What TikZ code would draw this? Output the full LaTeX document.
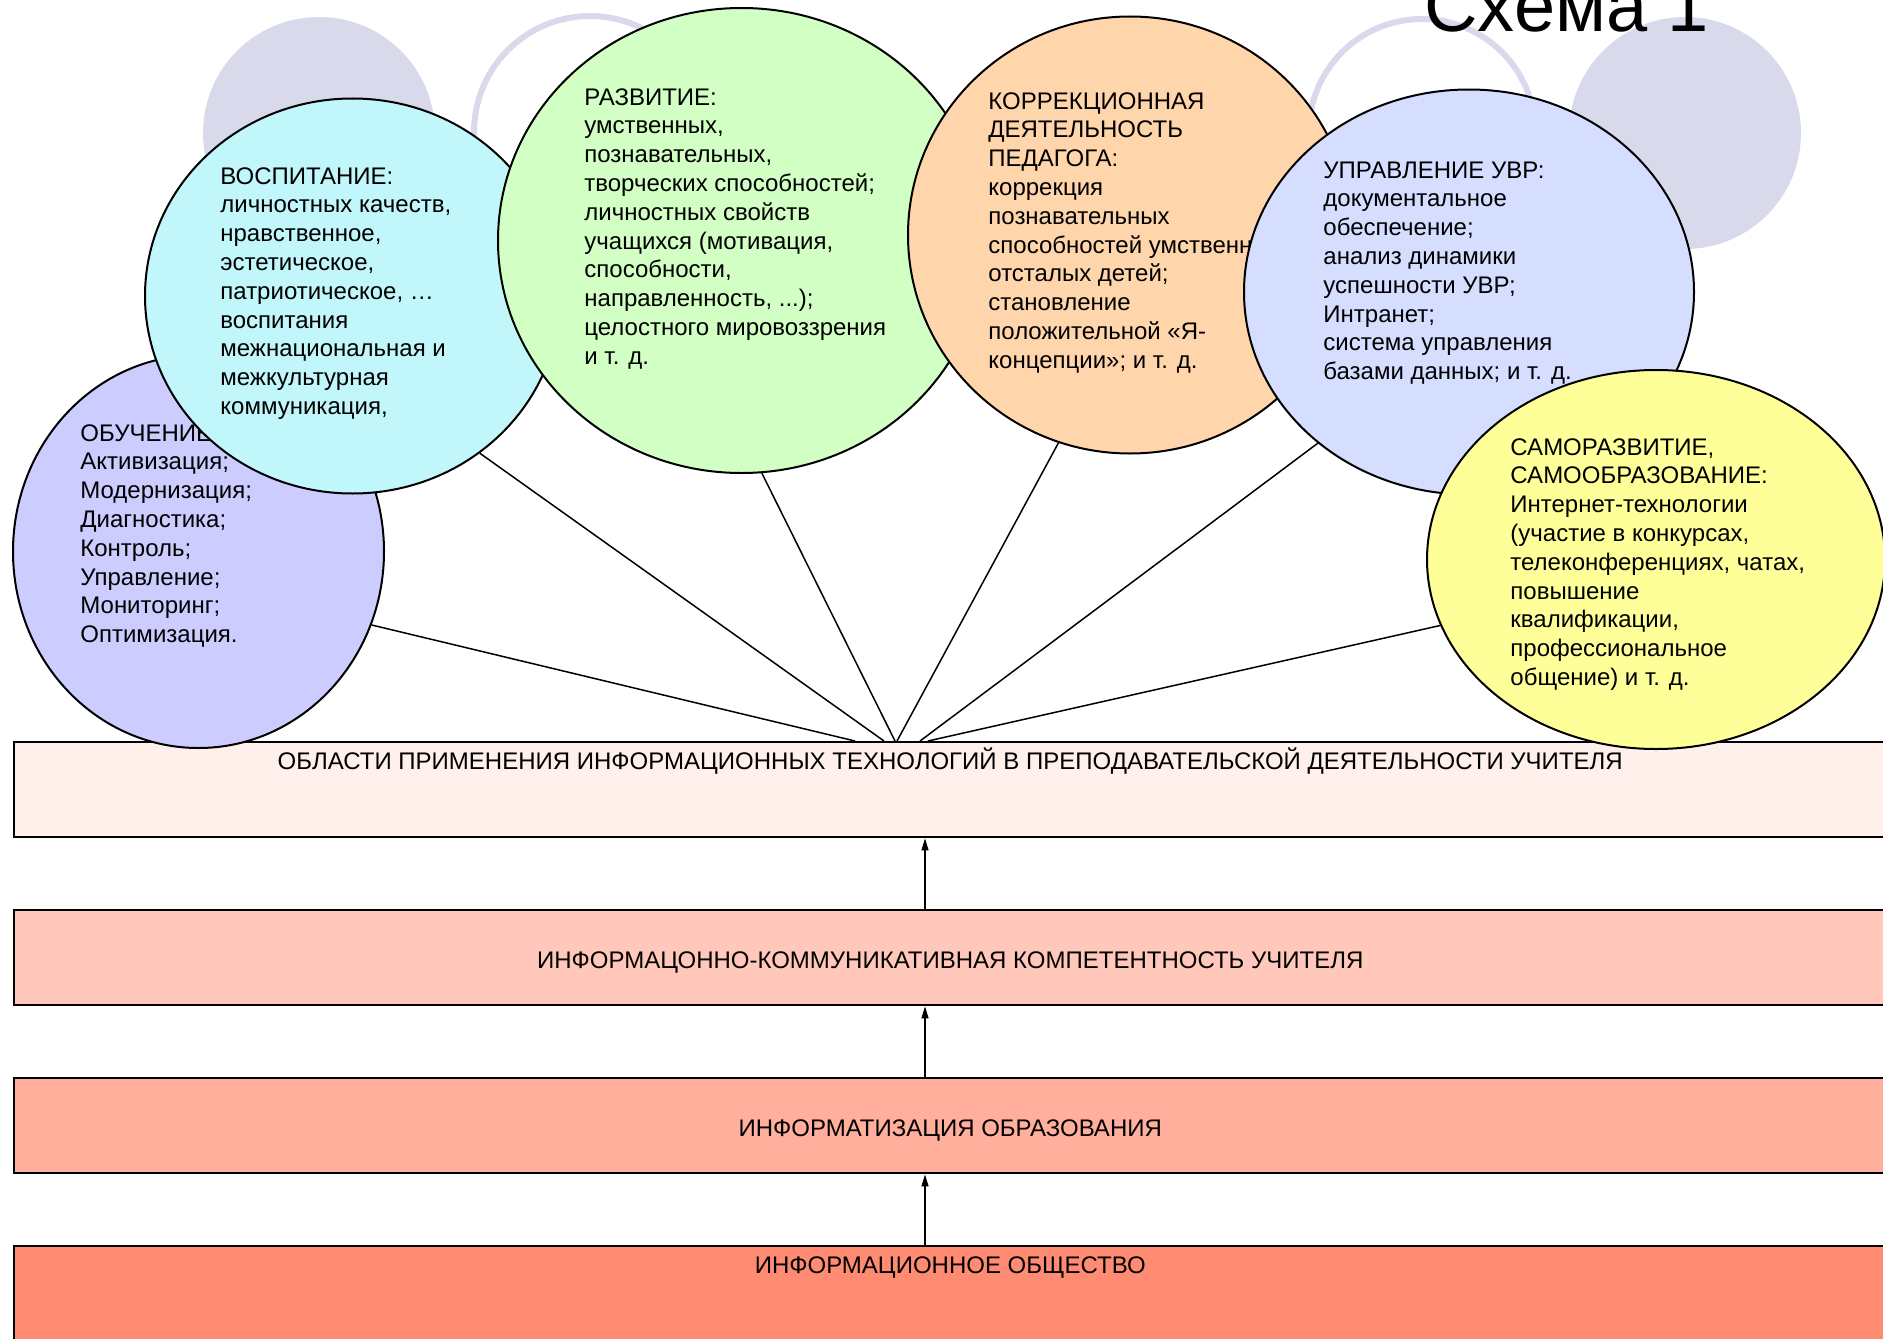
\documentclass[tikz,border=0pt]{standalone}
\usepackage{fontspec}
\setmainfont{Liberation Sans}
\usetikzlibrary{arrows.meta,shapes.geometric}
\definecolor{lav}{HTML}{D9D9EC}
\definecolor{obuchC}{HTML}{CCCCFF}
\definecolor{vospC}{HTML}{C1F6FA}
\definecolor{razvC}{HTML}{D2FFC4}
\definecolor{korrC}{HTML}{FFD5AB}
\definecolor{uprC}{HTML}{D5DEFF}
\definecolor{samoC}{HTML}{FFFF99}
\definecolor{lvlA}{HTML}{FFF0EC}
\definecolor{lvlB}{HTML}{FFC8BA}
\definecolor{lvlC}{HTML}{FFAF9C}
\definecolor{lvlD}{HTML}{FF8C72}
\begin{document}
\begin{tikzpicture}[x=0.5pt,y=-0.5pt,
    bub/.style={ellipse,draw,line width=1pt,inner sep=0pt},
    txt/.style={anchor=base west,align=left,inner sep=0pt,font=\fontsize{12}{14.4}\selectfont},
    lvl/.style={draw,line width=1.2pt,anchor=north west,inner sep=0pt,minimum width=936pt,minimum height=47.5pt,font=\fontsize{12}{14.4}\selectfont},
    toptext/.style={text height=13.8pt,text depth=33.7pt},
    midtext/.style={text height=29pt,text depth=18.5pt},
    fan/.style={line width=0.75pt},
    up/.style={-{Triangle[length=6pt,width=3.5pt]},line width=0.6pt}]
  \useasboundingbox (0,0) rectangle (1883,1338);
  \clip (0,0) rectangle (1883,1338);
  \fill[lav] (319,133) circle[radius=116];
  \draw[lav,line width=3pt] (590,132) circle[radius=116];
  \draw[lav,line width=3pt] (1422,132) circle[radius=113];
  \fill[lav] (1685,133) circle[radius=116];
  \node[anchor=base west,inner sep=0pt,font=\fontsize{37}{40}\selectfont] (title) at (1424,32) {Схема 1};
  \node[lvl,fill=lvlA,toptext] (obl) at (13,741)
    {ОБЛАСТИ ПРИМЕНЕНИЯ ИНФОРМАЦИОННЫХ ТЕХНОЛОГИЙ В ПРЕПОДАВАТЕЛЬСКОЙ ДЕЯТЕЛЬНОСТИ УЧИТЕЛЯ};
  \node[lvl,fill=lvlB,midtext] (komp) at (13,909) {ИНФОРМАЦОННО-КОММУНИКАТИВНАЯ КОМПЕТЕНТНОСТЬ УЧИТЕЛЯ};
  \node[lvl,fill=lvlC,midtext] (inform) at (13,1077) {ИНФОРМАТИЗАЦИЯ ОБРАЗОВАНИЯ};
  \node[lvl,fill=lvlD,toptext] (obsch) at (13,1245) {ИНФОРМАЦИОННОЕ ОБЩЕСТВО};
  \coordinate (ax) at (925,0);
  \draw[up] (komp.north -| ax) -- (obl.south -| ax);
  \draw[up] (inform.north -| ax) -- (komp.south -| ax);
  \draw[up] (obsch.north -| ax) -- (inform.south -| ax);
  \node[bub,fill=obuchC,minimum width=185.5pt,minimum height=196.5pt] (obuch) at (198.5,551.5) {};
  \node[txt] (obuchT) at (80,642.6) {ОБУЧЕНИЕ:\\Активизация;\\Модернизация;\\Диагностика;\\Контроль;\\Управление;\\Мониторинг;\\Оптимизация.};
  \node[bub,fill=vospC,minimum width=207.5pt,minimum height=197.5pt] (vosp) at (352.5,296) {};
  \node[txt] (vospT) at (220,414.4) {ВОСПИТАНИЕ:\\личностных качеств,\\нравственное,\\эстетическое,\\патриотическое, …\\воспитания\\межнациональная и\\межкультурная\\коммуникация,};
  \node[bub,fill=razvC,minimum width=243.5pt,minimum height=232.5pt] (razv) at (741.5,240.5) {};
  \node[txt] (razvT) at (584,364.2) {РАЗВИТИЕ:\\умственных,\\познавательных,\\творческих способностей;\\личностных свойств\\учащихся (мотивация,\\способности,\\направленность, ...);\\целостного мировоззрения\\и т. д.};
  \node[bub,fill=korrC,minimum width=222pt,minimum height=218.5pt] (korr) at (1130,235) {};
  \node[txt] (korrT) at (988,368.2) {КОРРЕКЦИОННАЯ\\ДЕЯТЕЛЬНОСТЬ\\ПЕДАГОГА:\\коррекция\\познавательных\\способностей умственно\\отсталых детей;\\становление\\положительной «Я-\\концепции»; и т. д.};
  \node[bub,fill=uprC,minimum width=225pt,minimum height=202.5pt] (upr) at (1469,292) {};
  \node[txt] (uprT) at (1323,379.6) {УПРАВЛЕНИЕ УВР:\\документальное\\обеспечение;\\анализ динамики\\успешности УВР;\\Интранет;\\система управления\\базами данных; и т. д.};
  \node[bub,fill=samoC,minimum width=229pt,minimum height=189.5pt] (samo) at (1656,559.5) {};
  \node[txt] (samoT) at (1510,685.4) {САМОРАЗВИТИЕ,\\САМООБРАЗОВАНИЕ:\\Интернет-технологии\\(участие в конкурсах,\\телеконференциях, чатах,\\повышение\\квалификации,\\профессиональное\\общение) и т. д.};
  \coordinate (f1) at (855,741);
  \coordinate (f2) at (884,741);
  \coordinate (f3) at (895,741);
  \coordinate (f4) at (897,741);
  \coordinate (f5) at (920,741);
  \coordinate (f6) at (928,741);
  \draw[fan] (obuch.-23) -- (f1);
  \draw[fan] (vosp.-51) -- (f2);
  \draw[fan] (razv.-85) -- (f3);
  \draw[fan] (korr.-109) -- (f4);
  \draw[fan] (upr.-135) -- (f5);
  \draw[fan] (samo.-163) -- (f6);
\end{tikzpicture}
\end{document}
